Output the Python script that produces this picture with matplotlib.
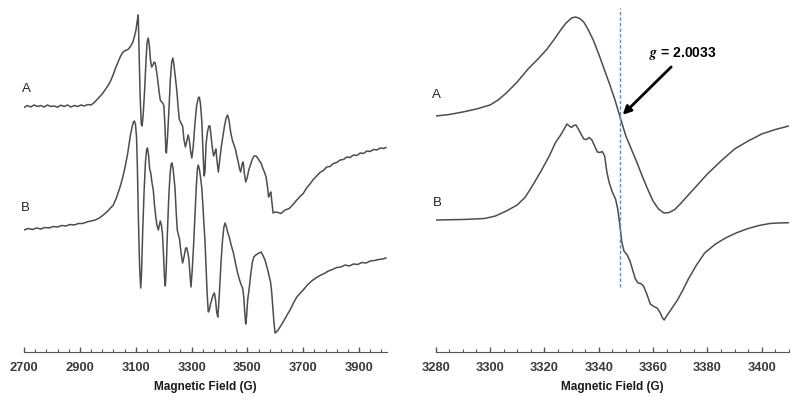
import numpy as np
import matplotlib
matplotlib.use("Agg")
import matplotlib.pyplot as plt

plt.rcParams['font.family'] = ['Liberation Sans', 'DejaVu Sans']
plt.rcParams['mathtext.fontset'] = 'stix'

# ---- left panel: wide scan (field in G, intensity in arbitrary units)
campo_A1 = [2700, 2712, 2724, 2736, 2748, 2760, 2772, 2784, 2796, 2808, 2820, 2832, 2844, 2856, 2868,
            2880, 2892, 2904, 2916, 2928, 2940, 2950, 2960, 2970, 2980, 2990, 3000, 3010, 3019, 3028,
            3037, 3046, 3055, 3063, 3072, 3080, 3090, 3096, 3101, 3105, 3109, 3112, 3116, 3120, 3123,
            3127, 3132, 3137, 3141, 3145, 3149, 3153, 3157, 3162, 3166, 3170, 3174, 3178, 3183, 3188,
            3193, 3197, 3201, 3205, 3208, 3210, 3214, 3219, 3224, 3229, 3233, 3237, 3242, 3247, 3252,
            3256, 3262, 3268, 3273, 3278, 3282, 3288, 3292, 3297, 3301, 3306, 3312, 3318, 3324, 3328,
            3332, 3337, 3341, 3345, 3348, 3352, 3357, 3362, 3366, 3370, 3374, 3379, 3384, 3387, 3391,
            3396, 3400, 3406, 3412, 3418, 3424, 3429, 3434, 3440, 3446, 3452, 3458, 3463, 3468, 3472,
            3476, 3481, 3485, 3489, 3494, 3499, 3505, 3512, 3518, 3524, 3531, 3537, 3543, 3549, 3555,
            3561, 3567, 3572, 3576, 3580, 3584, 3588, 3592, 3600, 3610, 3620, 3635, 3650, 3665, 3677,
            3690, 3700, 3712, 3724, 3736, 3748, 3760, 3772, 3784, 3796, 3808, 3820, 3832, 3844, 3856,
            3868, 3880, 3892, 3904, 3916, 3928, 3940, 3952, 3964, 3976, 3988, 3996]
sinal_A1 = [244.5, 246.5, 245, 247, 245.5, 246.5, 245, 247, 245.5, 246, 244.8, 246.8, 245.5, 247, 245,
            246.5, 245.5, 247, 246, 247.5, 247, 249, 252, 255, 258, 262, 266, 271, 277, 284,
            290, 296, 300, 301.5, 302.5, 305, 310, 316, 322, 330, 337, 300, 255, 228, 226,
            238, 262, 292, 310, 314, 306, 292, 285, 287, 290, 289, 282, 274, 262, 252,
            250, 249, 246, 225, 201, 199, 215, 242, 272, 290, 294, 287, 275, 262, 245,
            233, 229, 226, 212, 205, 210, 217, 212, 200, 194, 205, 228, 246, 254, 255,
            248, 230, 200, 176, 180, 208, 220, 226, 226, 216, 205, 196, 200, 203, 192,
            180, 190, 204, 215, 226, 234, 237, 232, 220, 212, 207, 202, 195, 189, 183,
            180, 188, 190, 179, 170, 174, 182, 188, 193, 196, 196, 194, 191, 189, 184,
            180, 175, 165, 155, 158, 160, 150, 139, 140, 139.5, 138.5, 142, 143.5, 148, 152,
            156, 158.5, 164, 168, 172.5, 176, 179.5, 181.5, 185, 185.5, 188.5, 189.5, 192, 192.5, 195,
            194.5, 197, 196.5, 199, 198.5, 201, 200.5, 202.5, 202, 204, 203.5, 204.5]

campo_B1 = [2700, 2715, 2730, 2745, 2760, 2775, 2790, 2805, 2820, 2835, 2850, 2865, 2880, 2895, 2910,
            2925, 2940, 2955, 2970, 2984, 3000, 3010, 3020, 3032, 3044, 3053, 3062, 3071, 3080, 3087,
            3092, 3095, 3099, 3103, 3106, 3110, 3114, 3118, 3121, 3125, 3130, 3135, 3139, 3142, 3146,
            3150, 3154, 3158, 3163, 3167, 3172, 3176, 3181, 3185, 3188, 3192, 3196, 3200, 3203, 3206,
            3209, 3213, 3218, 3223, 3227, 3230, 3234, 3238, 3241, 3245, 3249, 3253, 3257, 3262, 3268,
            3273, 3279, 3283, 3287, 3290, 3294, 3298, 3302, 3307, 3312, 3317, 3321, 3324, 3328, 3332,
            3336, 3340, 3344, 3348, 3352, 3356, 3360, 3364, 3368, 3372, 3377, 3382, 3386, 3390, 3394,
            3398, 3402, 3406, 3411, 3416, 3420, 3425, 3430, 3435, 3442, 3450, 3458, 3465, 3472, 3478,
            3483, 3487, 3491, 3494, 3497, 3501, 3507, 3513, 3518, 3523, 3530, 3536, 3542, 3549, 3555,
            3563, 3571, 3578, 3583, 3587, 3591, 3595, 3599, 3604, 3610, 3617, 3630, 3642, 3653, 3665,
            3677, 3690, 3700, 3715, 3730, 3745, 3760, 3775, 3790, 3805, 3820, 3835, 3850, 3865, 3880,
            3895, 3910, 3925, 3940, 3955, 3970, 3985, 3996]
sinal_B1 = [122, 123.5, 122.5, 124, 123, 124.5, 124, 125.5, 125, 126.5, 126, 127.5, 127, 128.5, 128.5,
            130, 131, 132, 134, 137, 141, 144, 147, 155, 165, 174, 185, 198, 215, 225,
            230, 231, 228, 215, 185, 130, 85, 64, 80, 120, 160, 190, 202, 204, 197,
            183, 179, 170, 162, 148, 135, 127, 122, 127, 131, 127, 118, 95, 75, 66,
            80, 115, 152, 178, 188, 189, 183, 172, 163, 140, 122, 117, 113, 100, 89,
            95, 104, 104, 99, 94, 80, 65, 80, 105, 135, 165, 183, 187, 183, 175,
            166, 150, 130, 112, 85, 58, 40, 42, 48, 52, 57, 59, 52, 40, 35,
            50, 72, 92, 112, 125, 129, 125, 119, 115, 107, 99, 88, 79, 72, 67,
            64, 55, 38, 28, 35, 52, 65, 80, 90, 95, 97, 98, 99, 100, 97,
            92, 84, 76, 70, 60, 45, 30, 19, 20, 22, 25, 31, 37, 42, 49,
            55, 59, 62, 67, 71, 74, 76.5, 78.5, 81, 82.5, 84.5, 85, 87, 86, 88,
            87.5, 89.5, 89, 91, 91.5, 92.5, 93, 94]

# ---- right panel: narrow scan
campo_A2 = [3280, 3285, 3290, 3295, 3300, 3303, 3306, 3310, 3314, 3318, 3321, 3324, 3326, 3328, 3330,
            3331.5, 3333, 3334.5, 3336, 3338, 3340, 3342, 3344, 3346, 3347.8, 3350, 3352, 3354, 3356,
            3358, 3360, 3362, 3364, 3366, 3368, 3370, 3373, 3376, 3380, 3385, 3390, 3395, 3400, 3405,
            3410]
sinal_A2 = [236, 237.5, 240, 243, 247, 252, 259, 270, 283, 294, 303, 314, 322, 329, 334,
            335, 333.5, 330, 323, 312, 298, 283, 268, 252, 235.5, 216, 203, 190, 176,
            163, 151, 143, 139, 139.5, 142.5, 148, 157, 166, 178, 191, 203, 211, 218, 222.5,
            226]

campo_B2 = [3280, 3290, 3298, 3302, 3306, 3310, 3313, 3316, 3319, 3322, 3324, 3326, 3327.5, 3328.3,
            3329.2, 3330, 3330.8, 3331.6, 3332.5, 3333.5, 3334.5, 3335.5, 3336.5, 3337.5, 3338.5,
            3339.5, 3340.5, 3341.3, 3342.2, 3343, 3343.8, 3345, 3346.2, 3347, 3347.8, 3348.5, 3349.3,
            3350.5, 3351.5, 3352.5, 3353.5, 3354.5, 3355.5, 3356.5, 3357.7, 3359, 3360.3, 3361.5,
            3362.5, 3363.5, 3364.1, 3365, 3366, 3367.5, 3369, 3371, 3373, 3376, 3379, 3383, 3387,
            3391, 3395, 3399, 3403, 3406, 3410]
sinal_B2 = [132, 132.5, 133.5, 136, 141, 147, 155, 168, 182, 197, 209, 217, 224, 228,
            226, 224.5, 226.5, 227, 223, 218, 213, 212.5, 214.5, 212, 206,
            200, 199.5, 200.5, 196, 180, 170, 160, 153, 143, 127, 110, 101,
            97, 91, 82, 73, 69, 68.5, 66, 58, 48, 45.5, 44,
            40, 34, 32, 36, 40, 46, 52, 62, 73, 87, 99, 108, 114.5,
            119.5, 123.5, 126.5, 128.5, 129, 129.3]

ticks_esq = [2700, 2900, 3100, 3300, 3500, 3700, 3900]
ticks_dir = [3280, 3300, 3320, 3340, 3360, 3380, 3400]
g_campo = 3347.8

cor = '#4d4d4d'
fig = plt.figure(figsize=(8, 4), dpi=100)
ax1 = fig.add_axes([0.03, 0.12, 0.45375, 0.88])
ax2 = fig.add_axes([0.5446, 0.12, 0.4415, 0.88])

ax1.plot(campo_A1, sinal_A1, color=cor, lw=1.1)
ax1.plot(campo_B1, sinal_B1, color=cor, lw=1.1)
ax2.plot(campo_A2, sinal_A2, color=cor, lw=1.1)
ax2.plot(campo_B2, sinal_B2, color=cor, lw=1.1)

ax1.set_xlim(2700, 4000)
ax2.set_xlim(3280, 3410)
ax1.set_xticks(ticks_esq)
ax1.set_xticks(np.arange(2700, 4001, 40), minor=True)
ax2.set_xticks(ticks_dir)
ax2.set_xticks(np.arange(3280, 3411, 5), minor=True)

for ax in (ax1, ax2):
    ax.set_ylim(0, 352)
    ax.set_yticks([])
    for s in ('left', 'top', 'right'):
        ax.spines[s].set_visible(False)
    ax.spines['bottom'].set_color('#555555')
    ax.tick_params(axis='x', which='major', direction='in', length=3.8, width=1.0,
                   color='#555555', pad=7, labelsize=9.3, labelcolor='#3a3a3a')
    ax.tick_params(axis='x', which='minor', direction='in', length=2.0, width=0.8, color='#555555')
    for lb in ax.get_xticklabels():
        lb.set_fontweight('bold')
    ax.set_xlabel('Magnetic Field (G)', fontsize=8.5, fontweight='bold', labelpad=5.5, color='#1a1a1a')
    ax.patch.set_alpha(0)

ax1.text(2707, 263, 'A', fontsize=9.5, ha='center', va='center', color='#222222')
ax1.text(2704, 144, 'B', fontsize=9.5, ha='center', va='center', color='#222222')
ax2.text(3280.4, 257.5, 'A', fontsize=9.5, ha='center', va='center', color='#222222')
ax2.text(3280.5, 149, 'B', fontsize=9.5, ha='center', va='center', color='#222222')

ax2.plot([g_campo, g_campo], [65, 344], color='#5b8fc9', lw=1.0, ls=(0, (2.5, 1.5)))
ax2.annotate('', xy=(3348.1, 235.3), xytext=(3367.4, 287),
             arrowprops=dict(arrowstyle='-|>', color='black', lw=2, mutation_scale=12))
ax2.text(3371.1, 298.7, r'$\mathbfit{g}$ = 2.0033', fontsize=10, fontweight='bold',
         ha='center', va='center', color='black')

fig.savefig('out.png', dpi=100)
